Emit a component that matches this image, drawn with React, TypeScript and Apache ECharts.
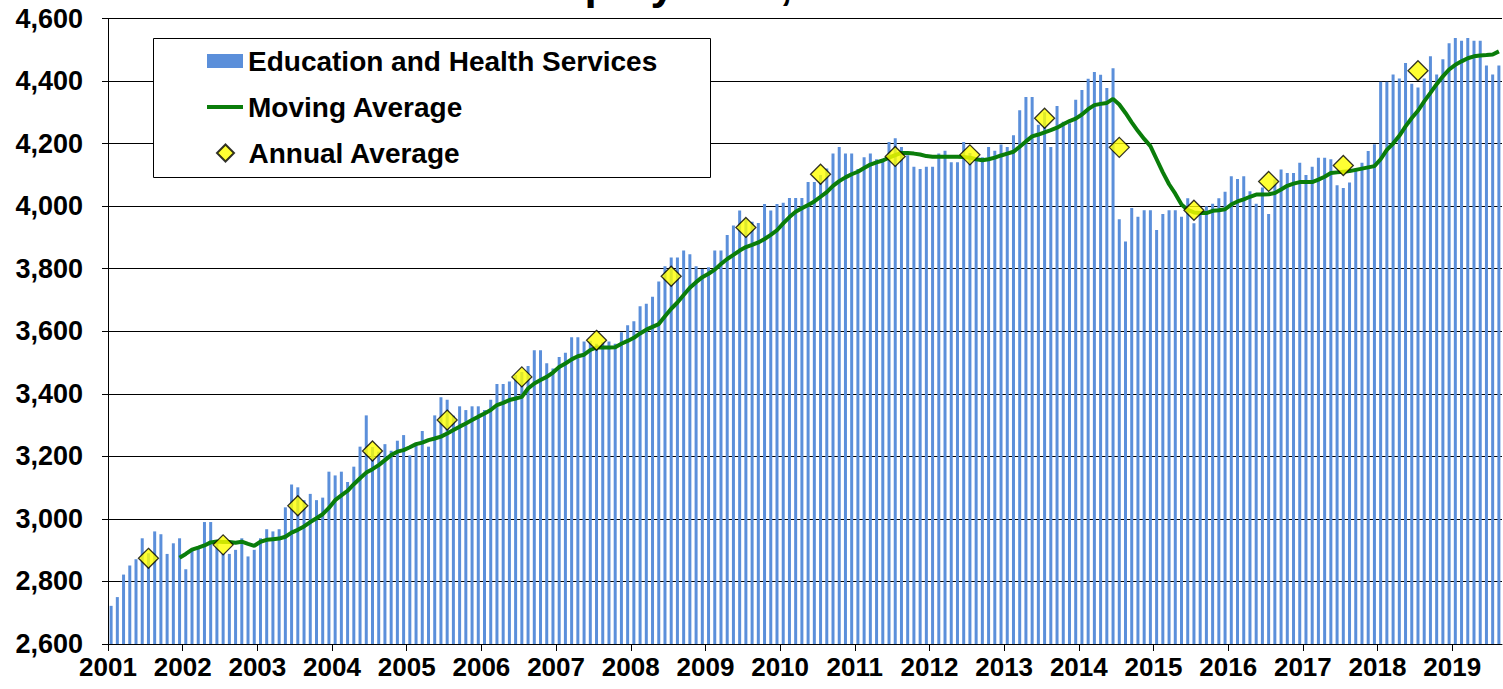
import React, { useEffect, useRef } from "react";
import * as echarts from "echarts";

// ---------- data (thousands of jobs) ----------
const startYear = 2001;
const yearLabels = [
  "2001", "2002", "2003", "2004", "2005", "2006", "2007", "2008", "2009", "2010",
  "2011", "2012", "2013", "2014", "2015", "2016", "2017", "2018", "2019",
];

// monthly Education and Health Services employment, Jan..Dec
const emp2001 = [2722, 2750, 2822, 2851, 2871, 2938, 2890, 2960, 2951, 2888, 2922, 2938];
const emp2002 = [2839, 2900, 2910, 2990, 2990, 2930, 2890, 2888, 2901, 2938, 2880, 2901];
const emp2003 = [2938, 2967, 2960, 2967, 3037, 3110, 3101, 3060, 3080, 3060, 3068, 3151];
const emp2004 = [3139, 3151, 3118, 3167, 3231, 3331, 3230, 3215, 3239, 3218, 3250, 3268];
const emp2005 = [3203, 3239, 3281, 3231, 3331, 3389, 3381, 3330, 3360, 3348, 3360, 3360];
const emp2006 = [3348, 3381, 3431, 3431, 3439, 3460, 3470, 3489, 3539, 3539, 3498, 3481];
const emp2007 = [3518, 3531, 3581, 3581, 3567, 3570, 3560, 3566, 3567, 3560, 3597, 3619];
const emp2008 = [3632, 3680, 3688, 3710, 3759, 3808, 3836, 3836, 3858, 3846, 3808, 3799];
const emp2009 = [3805, 3858, 3858, 3908, 3938, 3986, 3960, 3950, 3946, 4007, 3986, 4007];
const emp2010 = [4011, 4026, 4026, 4026, 4077, 4077, 4100, 4120, 4168, 4189, 4168, 4168];
const emp2011 = [4119, 4156, 4168, 4150, 4145, 4205, 4217, 4189, 4163, 4126, 4119, 4126];
const emp2012 = [4126, 4168, 4177, 4140, 4140, 4205, 4170, 4150, 4156, 4189, 4177, 4197];
const emp2013 = [4189, 4227, 4307, 4349, 4349, 4260, 4300, 4189, 4320, 4270, 4265, 4340];
const emp2014 = [4371, 4407, 4429, 4420, 4378, 4441, 3958, 3887, 3994, 3966, 3987, 3987];
const emp2015 = [3924, 3975, 3987, 3987, 3966, 4025, 3945, 3975, 4000, 4008, 4025, 4046];
const emp2016 = [4096, 4087, 4096, 4048, 4008, 4060, 3975, 4085, 4117, 4106, 4106, 4139];
const emp2017 = [4100, 4126, 4155, 4155, 4150, 4067, 4058, 4076, 4120, 4139, 4176, 4198];
const emp2018 = [4398, 4398, 4421, 4408, 4458, 4391, 4379, 4408, 4479, 4421, 4470, 4521];
const emp2019 = [4538, 4529, 4538, 4529, 4529, 4450, 4421, 4450];

// 12-month moving average as drawn (starts December 2001)
const ma2001 = [2876];
const ma2002 = [2888, 2902, 2908, 2915, 2925, 2928, 2926, 2926, 2924, 2927, 2920, 2914];
const ma2003 = [2927, 2933, 2935, 2937, 2943, 2956, 2965, 2976, 2990, 3002, 3015, 3035];
const ma2004 = [3060, 3075, 3090, 3111, 3130, 3148, 3159, 3172, 3188, 3204, 3215, 3220];
const ma2005 = [3229, 3239, 3244, 3252, 3257, 3263, 3273, 3284, 3295, 3305, 3316, 3327];
const ma2006 = [3337, 3348, 3364, 3371, 3380, 3385, 3390, 3417, 3433, 3444, 3454, 3468];
const ma2007 = [3486, 3497, 3510, 3520, 3525, 3540, 3548, 3548, 3548, 3549, 3560, 3569];
const ma2008 = [3579, 3593, 3605, 3614, 3623, 3648, 3672, 3692, 3716, 3739, 3757, 3773];
const ma2009 = [3784, 3797, 3815, 3831, 3844, 3858, 3869, 3876, 3884, 3895, 3908, 3923];
const ma2010 = [3945, 3965, 3982, 3993, 4004, 4015, 4030, 4045, 4065, 4080, 4092, 4102];
const ma2011 = [4110, 4122, 4133, 4140, 4146, 4155, 4163, 4170, 4170, 4168, 4165, 4160];
const ma2012 = [4158, 4158, 4158, 4158, 4158, 4157, 4155, 4150, 4147, 4150, 4155, 4162];
const ma2013 = [4168, 4174, 4190, 4207, 4223, 4229, 4236, 4243, 4251, 4262, 4272, 4280];
const ma2014 = [4293, 4310, 4323, 4327, 4330, 4343, 4325, 4298, 4268, 4240, 4215, 4192];
const ma2015 = [4150, 4108, 4070, 4040, 4005, 3988, 3980, 3978, 3978, 3985, 3987, 3990];
const ma2016 = [4005, 4015, 4022, 4030, 4037, 4037, 4038, 4042, 4053, 4065, 4072, 4077];
const ma2017 = [4077, 4077, 4085, 4094, 4106, 4108, 4110, 4112, 4116, 4120, 4124, 4128];
const ma2018 = [4150, 4180, 4200, 4225, 4255, 4282, 4305, 4335, 4362, 4390, 4415, 4437];
const ma2019 = [4452, 4463, 4473, 4479, 4482, 4483, 4485, 4495];
const maStartMonth = 11; // December 2001 (0-based month index)

// annual averages, plotted at mid-year
const annualYears = [
  2001, 2002, 2003, 2004, 2005, 2006, 2007, 2008, 2009,
  2010, 2011, 2012, 2013, 2014, 2015, 2016, 2017, 2018,
];
const annualAverage = [
  2874, 2917, 3042, 3217, 3316, 3454, 3571, 3776, 3932,
  4102, 4159, 4164, 4281, 4188, 3987, 4079, 4130, 4433,
];

const seriesNames = ["Education and Health Services", "Moving Average", "Annual Average"];
const titleText = "Employment, 2001–2019";

// ---------- build ----------
const employment = [
  ...emp2001, ...emp2002, ...emp2003, ...emp2004, ...emp2005, ...emp2006, ...emp2007,
  ...emp2008, ...emp2009, ...emp2010, ...emp2011, ...emp2012, ...emp2013, ...emp2014,
  ...emp2015, ...emp2016, ...emp2017, ...emp2018, ...emp2019,
];
const movingAverage = [
  ...ma2001, ...ma2002, ...ma2003, ...ma2004, ...ma2005, ...ma2006, ...ma2007,
  ...ma2008, ...ma2009, ...ma2010, ...ma2011, ...ma2012, ...ma2013, ...ma2014,
  ...ma2015, ...ma2016, ...ma2017, ...ma2018, ...ma2019,
];

const FONT = 'Arial, "Liberation Sans", Helvetica, sans-serif';
const BLUE = "#5B8FDA";
const GREEN = "#0A7D0A";

export default function App() {
  const ref = useRef<HTMLDivElement>(null);

  useEffect(() => {
    if (!ref.current) return;
    const chart = echarts.init(ref.current, undefined, { renderer: "svg" });
    const nMonths = employment.length;
    const yearTicks = yearLabels.map((_, i) => i * 12);

    const barData = employment.map((v, i) => [i + 0.5, v]);
    const lineData = movingAverage.map((v, i) => [maStartMonth + i + 0.5, v]);
    const diamondData = annualAverage.map((v, i) => [(annualYears[i] - startYear) * 12 + 6.5, v]);

    const legendText = {
      fontFamily: FONT,
      fontSize: 28,
      fontWeight: "bold" as const,
      color: "#000",
      lineHeight: 28,
    };

    chart.setOption({
      animation: false,
      backgroundColor: "#ffffff",
      textStyle: { fontFamily: FONT },
      grid: { left: 108, right: 1, top: 18.5, bottom: 45, containLabel: false },
      xAxis: {
        type: "value",
        min: 0,
        max: nMonths,
        axisLine: { show: true, onZero: false, lineStyle: { color: "#000", width: 1 } },
        axisTick: { show: true, length: 7, customValues: yearTicks, lineStyle: { color: "#000", width: 1 } },
        axisLabel: {
          customValues: yearTicks,
          formatter: (v: number) => yearLabels[Math.round(v / 12)] ?? "",
          fontFamily: FONT,
          fontSize: 26,
          fontWeight: "bold",
          color: "#000",
          margin: 10,
        },
        splitLine: { show: false },
      },
      yAxis: {
        type: "value",
        min: 2600,
        max: 4600,
        interval: 200,
        axisLine: { show: true, onZero: false, lineStyle: { color: "#000", width: 1 } },
        axisTick: { show: true, length: 6, lineStyle: { color: "#000", width: 1 } },
        axisLabel: {
          formatter: (v: number) => v.toLocaleString("en-US"),
          fontFamily: FONT,
          fontSize: 27,
          fontWeight: "bold",
          color: "#000",
          margin: 25,
        },
        splitLine: { show: true, lineStyle: { color: "#000", width: 1 } },
      },
      legend: [
        {
          data: [{ name: seriesNames[0], icon: "rect" }],
          left: 207, top: 47, padding: 0, itemWidth: 36, itemHeight: 14,
          textStyle: legendText, z: 10, selectedMode: false,
        },
        {
          data: [{ name: seriesNames[1], icon: "path://M0,0H36V4H0Z" }],
          left: 207, top: 93, padding: 0, itemWidth: 36, itemHeight: 14,
          textStyle: legendText, z: 10, selectedMode: false,
        },
        {
          data: [{ name: seriesNames[2], icon: "path://M10,0L20,10L10,20L0,10Z" }],
          left: 216, top: 139, padding: 0, itemWidth: 36, itemHeight: 17,
          textStyle: legendText, z: 10, selectedMode: false,
        },
      ],
      graphic: [
        {
          type: "rect",
          z: 5,
          shape: { x: 153.5, y: 38.5, width: 557, height: 139 },
          style: { fill: "#ffffff", stroke: "#000", lineWidth: 1 },
        },
        {
          type: "text",
          z: 5,
          x: 516,
          y: -17,
          style: {
            text: titleText,
            font: `bold 44px ${FONT}`,
            fill: "#000",
            align: "left",
            verticalAlign: "middle",
          },
        },
      ],
      series: [
        {
          name: seriesNames[0],
          type: "bar",
          data: barData,
          barWidth: 3,
          itemStyle: { color: BLUE },
          z: 2,
        },
        {
          name: seriesNames[1],
          type: "line",
          data: lineData,
          showSymbol: false,
          symbol: "none",
          lineStyle: { color: GREEN, width: 4 },
          itemStyle: { color: GREEN },
          z: 3,
        },
        {
          name: seriesNames[2],
          type: "scatter",
          data: diamondData,
          symbol: "diamond",
          symbolSize: 20,
          itemStyle: { color: "#FFFF00", borderColor: "#000", borderWidth: 1.3 },
          z: 4,
        },
      ],
    });

    return () => chart.dispose();
  }, []);

  return (
    <div
      ref={ref}
      style={{ position: "absolute", left: 0, top: 0, width: 1503, height: 689 }}
    />
  );
}
